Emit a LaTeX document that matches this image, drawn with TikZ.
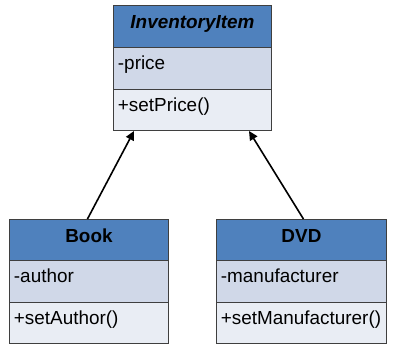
\documentclass[tikz,border=0pt]{standalone}
\usepackage{fontspec}
\setmainfont{Liberation Sans}
\usetikzlibrary{arrows.meta}
\definecolor{headblue}{HTML}{4F81BD}
\definecolor{attrfill}{HTML}{D0D8E8}
\definecolor{methfill}{HTML}{E9EDF4}
\definecolor{edgegray}{HTML}{3F3F3F}
\begin{document}
\begin{tikzpicture}[x=1pt,y=-1pt,
  font=\fontsize{18.9}{22}\selectfont,
  compart/.style={draw=edgegray,line width=0.9pt,rectangle,anchor=north west,
    inner xsep=4.5pt,inner ysep=0pt,align=left,text height=22.5pt},
  classhead/.style={compart,fill=headblue,align=center,font=\fontsize{18.9}{22}\selectfont\bfseries,text height=23.5pt},
  attrbox/.style={compart,fill=attrfill},
  methbox/.style={compart,fill=methfill},
  inherit/.style={draw=black,line width=1.6pt,-{Triangle[length=9pt,width=8.5pt]}}
]
\useasboundingbox (0,0) rectangle (394,349);

% abstract base class
\node[classhead,text width=149pt,text depth=18.5pt] (invhead) at (113,5) {\itshape InventoryItem};
\node[attrbox,text width=149pt,text depth=19.5pt] (invattr) at (113,47) {-price};
\node[methbox,text width=149pt,text depth=18.5pt] (invmeth) at (113,89) {+setPrice()};

% Book subclass
\node[classhead,text width=150pt,text depth=17.5pt] (bookhead) at (9,219) {Book};
\node[attrbox,text width=150pt,text depth=19.5pt] (bookattr) at (9,260) {-author};
\node[methbox,text width=150pt,text depth=18.5pt] (bookmeth) at (9,302) {+setAuthor()};

% DVD subclass
\node[classhead,text width=161pt,text depth=17.5pt] (dvdhead) at (216,219) {DVD};
\node[attrbox,text width=161pt,text depth=19.5pt] (dvdattr) at (216,260) {-manufacturer};
\node[methbox,text width=161pt,text depth=18.5pt] (dvdmeth) at (216,302) {+setManufacturer()};

% generalization arrows
\coordinate (invtipL) at (134,131);
\coordinate (invtipR) at (249,131);
\draw[inherit] (bookhead.north) ++(-1.5,0) -- (invtipL);
\draw[inherit] (dvdhead.north) ++(2,0) -- (invtipR);
\end{tikzpicture}
\end{document}
